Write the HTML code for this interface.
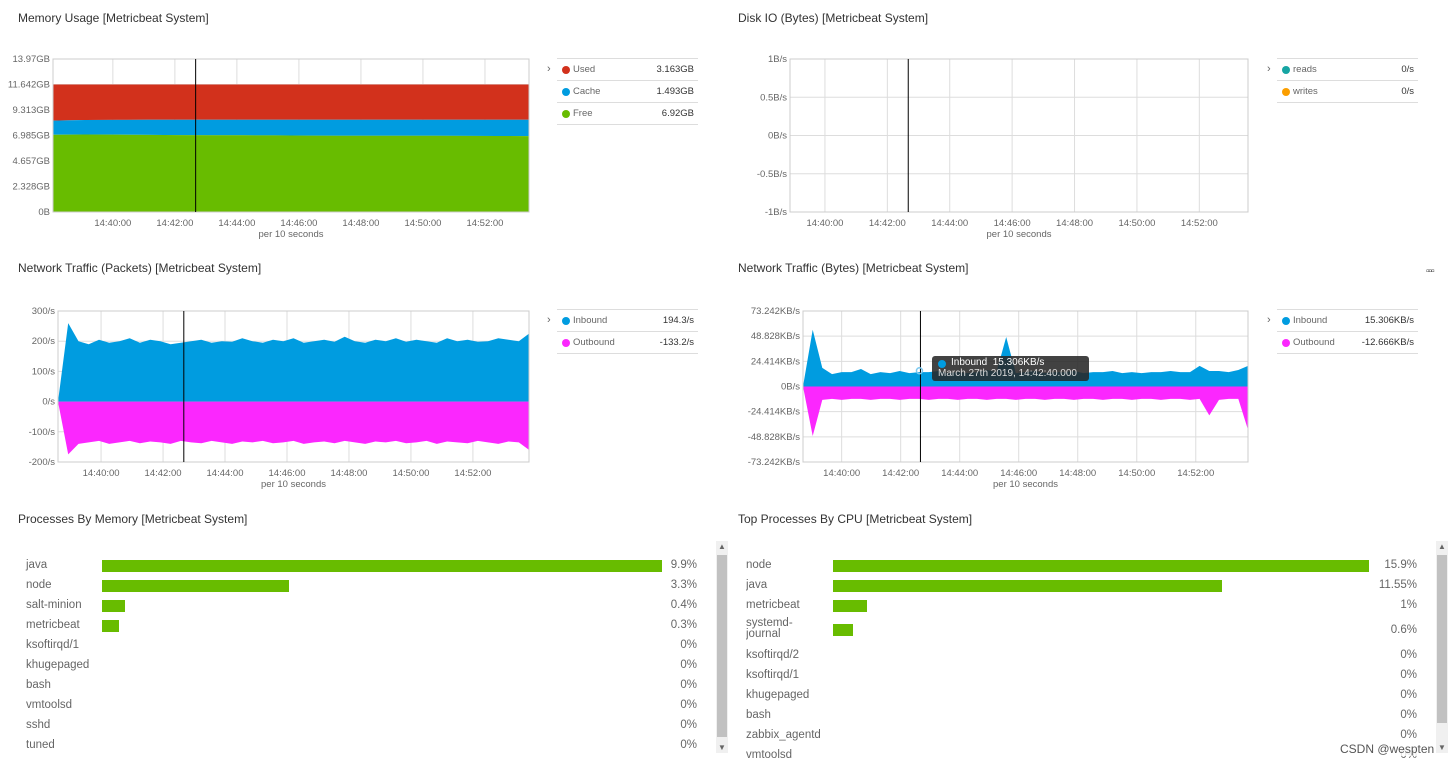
<!DOCTYPE html>
<html><head><meta charset="utf-8">
<style>
body{margin:0;width:1453px;height:766px;background:#fff;font-family:"Liberation Sans",sans-serif;overflow:hidden;position:relative;color:#333}
.t{position:absolute;font-size:12px;color:#333}
.lg{position:absolute;font-size:9.5px;color:#666}
.lrow{position:absolute;left:0;width:141px;height:21px;border-bottom:1px solid #ddd}
.lrow .d{position:absolute;left:5px;top:7px;width:8px;height:8px;border-radius:50%}
.lrow .n{position:absolute;left:16px;top:5px}
.lrow .v{position:absolute;right:4px;top:5px;color:#333}
.chev{position:absolute;left:-10px;top:4px;font-size:11px;color:#666}
.list{position:absolute;font-size:11.5px;color:#666}
.list .r{position:absolute;left:0;height:16px}
.list .lab{position:absolute;left:0;top:0;white-space:nowrap}
.list .bar{position:absolute;top:1px;height:12px;background:#68bc00}
.list .val{position:absolute;top:0;text-align:right;width:60px}
.sb{position:absolute;width:12px;background:#f0f0f0}
.sb .th{position:absolute;left:1px;width:10px;top:14px;bottom:14px;background:#c1c1c1}
.sb .a{position:absolute;left:2px;font-size:8px;color:#666}
svg text{font-family:"Liberation Sans",sans-serif}
</style></head><body>
<div class="t" style="left:18px;top:11px">Memory Usage [Metricbeat System]</div>
<div class="t" style="left:738px;top:11px">Disk IO (Bytes) [Metricbeat System]</div>
<div class="t" style="left:18px;top:261px">Network Traffic (Packets) [Metricbeat System]</div>
<div class="t" style="left:738px;top:261px">Network Traffic (Bytes) [Metricbeat System]</div>
<div class="t" style="left:18px;top:512px">Processes By Memory [Metricbeat System]</div>
<div class="t" style="left:738px;top:512px">Top Processes By CPU [Metricbeat System]</div>
<div style="position:absolute;left:1426px;top:266px;font-size:10px;color:#333;letter-spacing:-1px">▫▫▫</div>

<svg id="svg" width="1453" height="766" style="position:absolute;left:0;top:0"></svg>

<div class="lg" style="left:557px;top:58px;border-top:1px solid #ddd;width:141px">
 <span class="chev">›</span>
 <div class="lrow" style="top:0"><span class="d" style="background:#d2311c"></span><span class="n">Used</span><span class="v">3.163GB</span></div>
 <div class="lrow" style="top:22px"><span class="d" style="background:#009ce0"></span><span class="n">Cache</span><span class="v">1.493GB</span></div>
 <div class="lrow" style="top:44px"><span class="d" style="background:#68bc00"></span><span class="n">Free</span><span class="v">6.92GB</span></div>
</div>
<div class="lg" style="left:1277px;top:58px;border-top:1px solid #ddd;width:141px">
 <span class="chev">›</span>
 <div class="lrow" style="top:0"><span class="d" style="background:#16a5a3"></span><span class="n">reads</span><span class="v">0/s</span></div>
 <div class="lrow" style="top:22px"><span class="d" style="background:#fb9e00"></span><span class="n">writes</span><span class="v">0/s</span></div>
</div>
<div class="lg" style="left:557px;top:309px;border-top:1px solid #ddd;width:141px">
 <span class="chev">›</span>
 <div class="lrow" style="top:0"><span class="d" style="background:#009ce0"></span><span class="n">Inbound</span><span class="v">194.3/s</span></div>
 <div class="lrow" style="top:22px"><span class="d" style="background:#fb27fe"></span><span class="n">Outbound</span><span class="v">-133.2/s</span></div>
</div>
<div class="lg" style="left:1277px;top:309px;border-top:1px solid #ddd;width:141px">
 <span class="chev">›</span>
 <div class="lrow" style="top:0"><span class="d" style="background:#009ce0"></span><span class="n">Inbound</span><span class="v">15.306KB/s</span></div>
 <div class="lrow" style="top:22px"><span class="d" style="background:#fb27fe"></span><span class="n">Outbound</span><span class="v">-12.666KB/s</span></div>
</div>

<div style="position:absolute;left:932px;top:356px;width:157px;height:25px;background:rgba(40,40,40,0.88);border-radius:3px;color:#fff;font-size:10px">
 <span style="position:absolute;left:6px;top:4px;width:8px;height:8px;border-radius:50%;background:#009ce0"></span>
 <span style="position:absolute;left:19px;top:1px">Inbound&nbsp; 15.306KB/s</span>
 <span style="position:absolute;left:6px;top:12px;color:#ddd">March 27th 2019, 14:42:40.000</span>
</div>

<div id="listL" class="list" style="left:26px;top:559px;width:672px;height:200px"></div>
<div id="listR" class="list" style="left:746px;top:559px;width:672px;height:203px;overflow:hidden"></div>
<div class="sb" style="left:716px;top:541px;height:212px"><span class="a" style="top:1px">▲</span><div class="th" style="top:14px;bottom:16px"></div><span class="a" style="bottom:1px">▼</span></div>
<div class="sb" style="left:1436px;top:541px;height:212px"><span class="a" style="top:1px">▲</span><div class="th" style="top:14px;bottom:30px"></div><span class="a" style="bottom:1px">▼</span></div>
<div style="position:absolute;left:1340px;top:742px;font-size:12px;color:#555;background:rgba(255,255,255,0.8)">CSDN @wespten</div>

<script>
// ---- data ----
const xTickLabels = ["14:40:00","14:42:00","14:44:00","14:46:00","14:48:00","14:50:00","14:52:00"];
const xTickMinutes = [40,42,44,46,48,50,52];
const memTicks = ["0B","2.328GB","4.657GB","6.985GB","9.313GB","11.642GB","13.97GB"];
const memFree = [7.05,7.08,7.07,7.04,7.02,7.0,7.0,6.99,6.98,6.97,6.97,6.96,6.96,6.95,6.94,6.93];
const memCache = [1.3,1.32,1.34,1.38,1.4,1.42,1.43,1.44,1.45,1.46,1.46,1.47,1.47,1.48,1.49,1.49];
const memUsed = [3.29,3.24,3.23,3.22,3.22,3.22,3.21,3.21,3.21,3.21,3.21,3.21,3.21,3.21,3.21,3.22];
const diskTicks = ["-1B/s","-0.5B/s","0B/s","0.5B/s","1B/s"];
const pktTicks = ["-200/s","-100/s","0/s","100/s","200/s","300/s"];
const pktIn = [0,260,200,190,205,195,200,210,195,205,200,190,195,200,205,195,200,198,210,200,195,205,200,210,195,200,205,198,215,200,195,205,200,210,198,205,200,195,210,200,205,198,200,210,205,200,225];
const pktOut = [0,-175,-140,-135,-130,-140,-135,-130,-138,-132,-135,-140,-130,-135,-138,-130,-135,-140,-132,-135,-130,-138,-135,-130,-140,-135,-132,-138,-130,-135,-140,-132,-135,-130,-138,-135,-130,-140,-132,-135,-138,-130,-135,-140,-132,-135,-160];
const byteTicks = ["-73.242KB/s","-48.828KB/s","-24.414KB/s","0B/s","24.414KB/s","48.828KB/s","73.242KB/s"];
const byteIn = [0,55,18,12,14,14,17,12,14,13,15,13,14,14,15,13,14,13,14,16,14,48,13,14,15,13,14,14,15,13,14,14,15,13,14,13,14,14,15,14,14,20,15,15,14,16,20];
const byteOut = [0,-48,-13,-12,-13,-12,-12,-13,-12,-12,-13,-12,-12,-13,-12,-12,-13,-12,-12,-13,-12,-12,-13,-12,-12,-13,-12,-12,-13,-12,-12,-13,-12,-12,-13,-12,-12,-13,-12,-12,-13,-12,-28,-13,-12,-12,-42];
const memProcNames = ["java","node","salt-minion","metricbeat","ksoftirqd/1","khugepaged","bash","vmtoolsd","sshd","tuned"];
const memProcVals = [9.9,3.3,0.4,0.3,0,0,0,0,0,0];
const memProcLabels = ["9.9%","3.3%","0.4%","0.3%","0%","0%","0%","0%","0%","0%"];
const cpuProcNames = ["node","java","metricbeat","systemd-<br>journal","ksoftirqd/2","ksoftirqd/1","khugepaged","bash","zabbix_agentd","vmtoolsd"];
const cpuProcVals = [15.9,11.55,1,0.6,0,0,0,0,0,0];
const cpuProcLabels = ["15.9%","11.55%","1%","0.6%","0%","0%","0%","0%","0%","0%"];

const NS="http://www.w3.org/2000/svg";
const svg=document.getElementById('svg');
function el(tag,attrs,parent){const e=document.createElementNS(NS,tag);for(const k in attrs)e.setAttribute(k,attrs[k]);(parent||svg).appendChild(e);return e;}

function chart(name,c){
  const g=el('g',{});
  
  
  const xs=m=>c.x0+(m-c.t0)/(c.t1-c.t0)*(c.x1-c.x0);
  const ys=v=>c.y1-(v-c.vmin)/(c.vmax-c.vmin)*(c.y1-c.y0);
  c.yTicks.forEach((lab,i)=>{
    const v=c.vmin+i*(c.vmax-c.vmin)/(c.yTicks.length-1);
    const y=ys(v);
    el('line',{x1:c.x0,x2:c.x1,y1:y,y2:y,stroke:'#ddd','stroke-width':1},g);
    const t=el('text',{x:c.x0-3,y:y+3,'text-anchor':'end','font-size':9.5,fill:'#666'},g);t.textContent=lab;
  });
  xTickMinutes.forEach((m,i)=>{
    const x=xs(m);
    el('line',{x1:x,x2:x,y1:c.y0,y2:c.y1,stroke:'#ddd'},g);
    const t=el('text',{x:x,y:c.y1+14,'text-anchor':'middle','font-size':9.5,fill:'#666'},g);t.textContent=xTickLabels[i];
  });
  const sub=el('text',{x:(c.x0+c.x1)/2,y:c.y1+25,'text-anchor':'middle','font-size':9.5,fill:'#666'},g);sub.textContent='per 10 seconds';
  (c.series||[]).forEach(s=>{
    const n=s.top.length, step=(c.t1-c.t0)/(n-1);
    let d='M'+xs(c.t0)+','+ys(s.base?s.base[0]:0);
    s.top.forEach((v,i)=>{d+=' L'+xs(c.t0+i*step).toFixed(1)+','+ys(v).toFixed(1);});
    for(let i=n-1;i>=0;i--){d+=' L'+xs(c.t0+i*step).toFixed(1)+','+ys(s.base?s.base[i]:0).toFixed(1);}
    const p=el('path',{d:d+'Z',fill:s.color},g);
    
    
  });
  el('rect',{x:c.x0,y:c.y0,width:c.x1-c.x0,height:c.y1-c.y0,fill:'none',stroke:'#ccc'},g);
  const cx=xs(c.cursor);
  el('line',{x1:cx,x2:cx,y1:c.y0,y2:c.y1,stroke:'#000','stroke-width':1},g);
  return {xs,ys};
}

const stackA=memFree, stackB=memFree.map((v,i)=>v+memCache[i]), stackC=stackB.map((v,i)=>v+memUsed[i]);
chart('memory-chart',{x0:53,x1:529,y0:59,y1:212,t0:38.07,t1:53.42,vmin:0,vmax:13.97,yTicks:memTicks,cursor:42.67,
 series:[{name:'used-area',top:stackC,base:stackB,color:'#d2311c'},{name:'cache-area',top:stackB,base:stackA,color:'#009ce0'},{name:'free-area',top:stackA,color:'#68bc00'}]});
chart('disk-io-chart',{x0:790,x1:1248,y0:59,y1:212,t0:38.88,t1:53.56,vmin:-1,vmax:1,yTicks:diskTicks,cursor:42.67,series:[]});
chart('packets-chart',{x0:58,x1:529,y0:311,y1:462,t0:38.61,t1:53.81,vmin:-200,vmax:300,yTicks:pktTicks,cursor:42.67,
 series:[{name:'inbound-packets-area',top:pktIn,color:'#009ce0'},{name:'outbound-packets-area',top:pktOut,color:'#fb27fe'}]});
const bc=chart('bytes-chart',{x0:803,x1:1248,y0:311,y1:462,t0:38.69,t1:53.77,vmin:-73.242,vmax:73.242,yTicks:byteTicks,cursor:42.67,
 series:[{name:'inbound-bytes-area',top:byteIn,color:'#009ce0'},{name:'outbound-bytes-area',top:byteOut,color:'#fb27fe'}]});
el('circle',{cx:bc.xs(42.67)-1,cy:bc.ys(15.3),r:3,fill:'none',stroke:'#7cc8ef','stroke-width':1.5});

function list(id,names,vals,labels,barX,barMax,valRight){
  const host=document.getElementById(id);
  const mx=Math.max(...vals);
  let off=0;
  names.forEach((n,i)=>{
    const two=n.indexOf('<br>')>=0;
    const r=document.createElement('div');r.className='r';r.style.top=(i*20+off)+'px';r.style.width='672px';
    
    
    const l=document.createElement('div');l.className='lab';l.innerHTML=n;
    if(two){l.style.lineHeight='11px';l.style.top='-1px';}
    r.appendChild(l);
    if(vals[i]>0){const b=document.createElement('div');b.className='bar';b.style.left=barX+'px';b.style.width=(vals[i]/mx*barMax)+'px';
      if(two)b.style.top='5px';
      
      
      r.appendChild(b);}
    const v=document.createElement('div');v.className='val';v.style.left=(valRight-60)+'px';v.textContent=labels[i];
    if(two)v.style.top='5px';
    r.appendChild(v);
    host.appendChild(r);
    if(two)off+=10;
  });
}
list('listL',memProcNames,memProcVals,memProcLabels,76,560,671);
list('listR',cpuProcNames,cpuProcVals,cpuProcLabels,87,536,671);
</script>
</body></html>
